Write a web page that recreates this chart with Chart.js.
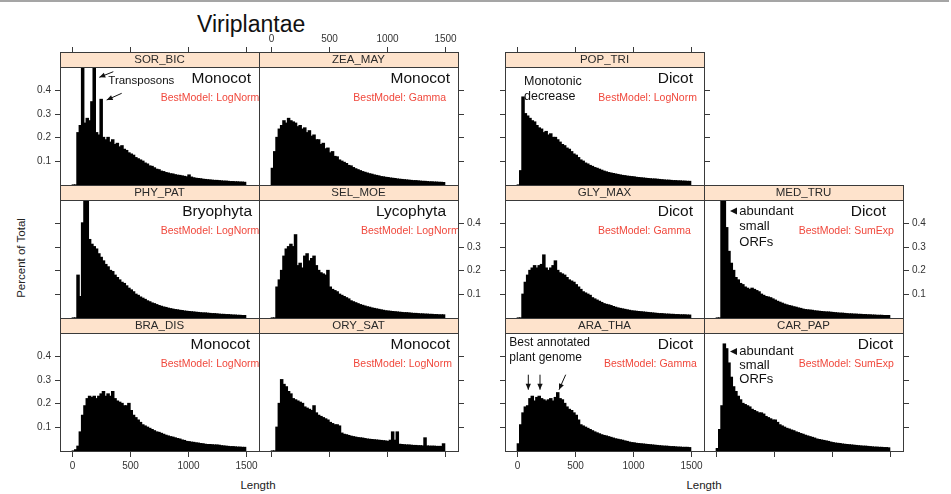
<!DOCTYPE html>
<html>
<head>
<meta charset="utf-8">
<title>Viriplantae</title>
<script src="https://cdn.jsdelivr.net/npm/chart.js@4.4.1/dist/chart.umd.min.js"></script>
<style>
  html, body { margin: 0; padding: 0; background: #fff; }
  body { width: 951px; height: 494px; position: relative; overflow: hidden;
         font-family: "Liberation Sans", Arial, Helvetica, sans-serif; color: #222; }
  #topline { position: absolute; left: 0; top: 0; width: 949px; height: 2px; background: #a5a5a5; }
  canvas { position: absolute; }
  .lbl { position: absolute; white-space: nowrap; }
</style>
</head>
<body>
<div id="topline"></div>
<div class="lbl" style="left:197px;top:11px;font-size:23px;line-height:26px;color:#111">Viriplantae</div>
<div class="lbl" style="left:208px;top:477px;width:100px;text-align:center;font-size:11.5px;line-height:16px">Length</div>
<div class="lbl" style="left:654px;top:477px;width:100px;text-align:center;font-size:11.5px;line-height:16px">Length</div>
<div class="lbl" style="left:-29px;top:250px;width:100px;text-align:center;font-size:11.5px;line-height:16px;transform:rotate(-90deg)">Percent of Total</div>

<script>
// bin centres of the length histograms (bin width 20)
var lengthBins = [
  10, 30, 50, 70, 90, 110, 130, 150, 170, 190,
  210, 230, 250, 270, 290, 310, 330, 350, 370, 390,
  410, 430, 450, 470, 490, 510, 530, 550, 570, 590,
  610, 630, 650, 670, 690, 710, 730, 750, 770, 790,
  810, 830, 850, 870, 890, 910, 930, 950, 970, 990,
  1010, 1030, 1050, 1070, 1090, 1110, 1130, 1150, 1170, 1190,
  1210, 1230, 1250, 1270, 1290, 1310, 1330, 1350, 1370, 1390,
  1410, 1430, 1450, 1470, 1490
];

var sorBic = [
  0, 0, 0.22, 0.25, 0.6, 0.26, 0.28, 0.27, 0.35, 0.6,
  0.22, 0.21, 0.36, 0.2, 0.19, 0.2, 0.18, 0.19, 0.17, 0.175,
  0.16, 0.165, 0.15, 0.145, 0.135, 0.13, 0.125, 0.115, 0.11, 0.105,
  0.1, 0.092, 0.088, 0.08, 0.078, 0.072, 0.066, 0.064, 0.058, 0.056,
  0.052, 0.05, 0.047, 0.046, 0.043, 0.041, 0.04, 0.038, 0.036, 0.034,
  0.042, 0.033, 0.03, 0.028, 0.027, 0.026, 0.024, 0.023, 0.022, 0.021,
  0.02, 0.019, 0.019, 0.018, 0.017, 0.016, 0.016, 0.015, 0.014, 0.014,
  0.013, 0.013, 0.012, 0.012, 0.011
];
var zeaMay = [
  0.07, 0.14, 0.2, 0.235, 0.25, 0.27, 0.26, 0.28, 0.27, 0.265,
  0.26, 0.245, 0.25, 0.235, 0.24, 0.22, 0.228, 0.205, 0.21, 0.19,
  0.19, 0.17, 0.175, 0.152, 0.155, 0.135, 0.14, 0.12, 0.118, 0.105,
  0.1, 0.095, 0.09, 0.082, 0.08, 0.073, 0.068, 0.064, 0.06, 0.056,
  0.053, 0.05, 0.047, 0.045, 0.042, 0.04, 0.038, 0.035, 0.034, 0.032,
  0.031, 0.029, 0.028, 0.027, 0.025, 0.024, 0.023, 0.022, 0.021, 0.02,
  0.019, 0.018, 0.018, 0.017, 0.016, 0.015, 0.015, 0.014, 0.013, 0.013,
  0.012, 0.012, 0.011, 0.011, 0.01
];
var phyPat = [
  0, 0, 0.18, 0.09, 0.4, 0.6, 0.6, 0.33, 0.31, 0.3,
  0.29, 0.27, 0.255, 0.24, 0.225, 0.215, 0.2, 0.195, 0.18, 0.17,
  0.16, 0.15, 0.145, 0.135, 0.125, 0.118, 0.11, 0.1, 0.095, 0.088,
  0.083, 0.078, 0.072, 0.068, 0.063, 0.06, 0.056, 0.052, 0.049, 0.046,
  0.044, 0.041, 0.039, 0.037, 0.035, 0.034, 0.032, 0.031, 0.029, 0.028,
  0.027, 0.026, 0.025, 0.024, 0.023, 0.022, 0.021, 0.021, 0.02, 0.019,
  0.018, 0.018, 0.017, 0.016, 0.015, 0.015, 0.014, 0.014, 0.013, 0.012,
  0.012, 0.011, 0.011, 0.01, 0.01
];
var selMoe = [
  0, 0, 0.13, 0.16, 0.2, 0.26, 0.29, 0.3, 0.31, 0.3,
  0.35, 0.22, 0.23, 0.21, 0.26, 0.27, 0.24, 0.25, 0.26, 0.22,
  0.2, 0.19, 0.185, 0.18, 0.2, 0.13, 0.12, 0.115, 0.11, 0.1,
  0.095, 0.09, 0.085, 0.08, 0.072, 0.068, 0.064, 0.06, 0.056, 0.053,
  0.05, 0.047, 0.045, 0.042, 0.04, 0.038, 0.036, 0.034, 0.032, 0.03,
  0.029, 0.028, 0.027, 0.026, 0.025, 0.024, 0.023, 0.022, 0.022, 0.021,
  0.02, 0.019, 0.019, 0.018, 0.017, 0.017, 0.016, 0.016, 0.015, 0.015,
  0.014, 0.014, 0.013, 0.013, 0.013
];
var braDis = [
  0, 0.005, 0.02, 0.08, 0.15, 0.19, 0.22, 0.23, 0.225, 0.23,
  0.22, 0.23, 0.24, 0.25, 0.23, 0.24, 0.23, 0.25, 0.22, 0.21,
  0.205, 0.2, 0.19, 0.19, 0.2, 0.17, 0.15, 0.14, 0.13, 0.12,
  0.11, 0.105, 0.1, 0.095, 0.09, 0.085, 0.08, 0.078, 0.074, 0.07,
  0.066, 0.063, 0.06, 0.058, 0.055, 0.052, 0.05, 0.046, 0.044, 0.04,
  0.039, 0.037, 0.036, 0.034, 0.033, 0.031, 0.03, 0.028, 0.027, 0.027,
  0.026, 0.025, 0.025, 0.024, 0.022, 0.021, 0.02, 0.019, 0.018, 0.018,
  0.017, 0.016, 0.016, 0.015, 0.015
];
var orySat = [
  0, 0, 0.1, 0.2, 0.3, 0.28, 0.27, 0.25, 0.24, 0.22,
  0.215, 0.21, 0.205, 0.2, 0.185, 0.18, 0.175, 0.17, 0.19, 0.16,
  0.15, 0.145, 0.14, 0.135, 0.13, 0.12, 0.115, 0.11, 0.11, 0.105,
  0.075, 0.07, 0.068, 0.065, 0.062, 0.06, 0.058, 0.056, 0.055, 0.054,
  0.052, 0.05, 0.049, 0.048, 0.047, 0.046, 0.045, 0.044, 0.043, 0.042,
  0.04, 0.045, 0.08, 0.045, 0.08, 0.028, 0.027, 0.026, 0.025, 0.025,
  0.024, 0.023, 0.023, 0.022, 0.022, 0.021, 0.055, 0.021, 0.02, 0.02,
  0.02, 0.019, 0.019, 0.019, 0.03
];
var popTri = [
  0, 0.06, 0.37, 0.3, 0.29, 0.28, 0.27, 0.265, 0.25, 0.24,
  0.235, 0.22, 0.225, 0.21, 0.215, 0.2, 0.2, 0.19, 0.18, 0.17,
  0.165, 0.155, 0.15, 0.14, 0.13, 0.125, 0.115, 0.105, 0.1, 0.092,
  0.088, 0.082, 0.078, 0.073, 0.07, 0.066, 0.062, 0.058, 0.055, 0.052,
  0.05, 0.048, 0.046, 0.044, 0.042, 0.04, 0.039, 0.037, 0.036, 0.035,
  0.034, 0.032, 0.031, 0.03, 0.029, 0.028, 0.027, 0.026, 0.025, 0.025,
  0.024, 0.023, 0.022, 0.021, 0.02, 0.02, 0.019, 0.018, 0.018, 0.017,
  0.017, 0.016, 0.016, 0.015, 0.015
];
var glyMax = [
  0, 0, 0.1, 0.15, 0.18, 0.2, 0.21, 0.22, 0.21, 0.22,
  0.225, 0.265, 0.21, 0.2, 0.21, 0.22, 0.24, 0.2, 0.19, 0.185,
  0.18, 0.17, 0.16, 0.155, 0.15, 0.14, 0.13, 0.12, 0.11, 0.105,
  0.1, 0.095, 0.085, 0.08, 0.075, 0.07, 0.065, 0.06, 0.057, 0.055,
  0.052, 0.048, 0.045, 0.042, 0.04, 0.038, 0.036, 0.034, 0.032, 0.03,
  0.029, 0.028, 0.027, 0.026, 0.025, 0.024, 0.023, 0.022, 0.021, 0.02,
  0.019, 0.018, 0.018, 0.017, 0.016, 0.016, 0.015, 0.015, 0.014, 0.014,
  0.013, 0.013, 0.013, 0.012, 0.012
];
var medTru = [
  0, 0, 0.7, 0.6, 0.38, 0.28, 0.23, 0.2, 0.17, 0.16,
  0.145, 0.14, 0.13, 0.125, 0.12, 0.125, 0.12, 0.115, 0.11, 0.1,
  0.095, 0.09, 0.088, 0.085, 0.08, 0.075, 0.07, 0.066, 0.062, 0.058,
  0.055, 0.052, 0.05, 0.047, 0.045, 0.042, 0.04, 0.037, 0.035, 0.034,
  0.033, 0.032, 0.03, 0.029, 0.028, 0.027, 0.026, 0.025, 0.025, 0.024,
  0.023, 0.022, 0.021, 0.02, 0.02, 0.019, 0.018, 0.017, 0.017, 0.016,
  0.016, 0.015, 0.015, 0.014, 0.014, 0.013, 0.013, 0.012, 0.012, 0.011,
  0.011, 0.011, 0.01, 0.01, 0.01
];
var araTha = [
  0.03, 0.11, 0.16, 0.185, 0.19, 0.22, 0.23, 0.21, 0.225, 0.23,
  0.22, 0.215, 0.21, 0.215, 0.22, 0.21, 0.225, 0.245, 0.22, 0.215,
  0.2, 0.185, 0.175, 0.17, 0.16, 0.15, 0.13, 0.11, 0.105, 0.1,
  0.095, 0.09, 0.085, 0.08, 0.076, 0.072, 0.068, 0.065, 0.063, 0.06,
  0.057, 0.054, 0.051, 0.049, 0.047, 0.045, 0.042, 0.04, 0.037, 0.035,
  0.034, 0.032, 0.031, 0.03, 0.029, 0.028, 0.027, 0.026, 0.025, 0.024,
  0.023, 0.022, 0.021, 0.02, 0.02, 0.019, 0.018, 0.018, 0.017, 0.016,
  0.016, 0.015, 0.015, 0.015, 0.014
];
var carPap = [
  0.01, 0.09, 0.19, 0.45, 0.43, 0.37, 0.31, 0.27, 0.25, 0.23,
  0.215, 0.2, 0.195, 0.19, 0.185, 0.175, 0.17, 0.165, 0.16, 0.16,
  0.155, 0.145, 0.14, 0.135, 0.13, 0.13, 0.12, 0.11, 0.105, 0.1,
  0.095, 0.092, 0.088, 0.085, 0.08, 0.077, 0.073, 0.07, 0.066, 0.063,
  0.06, 0.057, 0.054, 0.05, 0.048, 0.046, 0.044, 0.042, 0.04, 0.037,
  0.035, 0.033, 0.032, 0.031, 0.029, 0.028, 0.027, 0.026, 0.025, 0.024,
  0.023, 0.022, 0.021, 0.02, 0.02, 0.019, 0.018, 0.017, 0.016, 0.016,
  0.015, 0.015, 0.014, 0.014, 0.013
];

var xTicks = [0, 500, 1000, 1500];
var xTickLabels = ['0', '500', '1000', '1500'];
var yTicks = [0.1, 0.2, 0.3, 0.4];
var yTickLabels = ['0.1', '0.2', '0.3', '0.4'];

// panel geometry (px)
var X_MIN = -106, X_MAX = 1615, Y_MAX = 0.4964;
var PANEL_W = 199, PANEL_H = 118, STRIP_H = 15, PAD = 40, TICK = 5;
var FRAME = '#3a3a3a', STRIP_FILL = '#fee3cc', RED = '#f0483c';
var FONT = '"Liberation Sans", Arial, Helvetica, sans-serif';

// axes: 1 = ticks only, 2 = ticks + labels
var panels = [
  { name: 'SOR_BIC', values: sorBic, left: 60,  top: 67,  group: 'Monocot',   gx: 191, model: 'BestModel: LogNorm', mx: 100.7,
    axes: { t: 1, l: 2 },
    notes: [ { text: 'Transposons', x: 48.3, y: 13.7, size: 11.5 } ],
    arrows: [ [53.3, 4.7, 39.3, 10.3], [61.7, 26.3, 46.7, 33] ] },
  { name: 'ZEA_MAY', values: zeaMay, left: 259, top: 67,  group: 'Monocot',   gx: 191, model: 'BestModel: Gamma',   mx: 94.3,
    axes: { t: 2, r: 1 } },
  { name: 'PHY_PAT', values: phyPat, left: 60,  top: 200, group: 'Bryophyta', gx: 192, model: 'BestModel: LogNorm', mx: 100.7,
    axes: { l: 1 } },
  { name: 'SEL_MOE', values: selMoe, left: 259, top: 200, group: 'Lycophyta', gx: 187, model: 'BestModel: LogNorm', mx: 102,
    axes: { r: 2 } },
  { name: 'BRA_DIS', values: braDis, left: 60,  top: 333, group: 'Monocot',   gx: 190, model: 'BestModel: LogNorm', mx: 100.7,
    axes: { l: 2, b: 2 } },
  { name: 'ORY_SAT', values: orySat, left: 259, top: 333, group: 'Monocot',   gx: 191, model: 'BestModel: LogNorm', mx: 94.3,
    axes: { r: 1, b: 1 } },
  { name: 'POP_TRI', values: popTri, left: 505, top: 67,  group: 'Dicot',     gx: 188, model: 'BestModel: LogNorm', mx: 93.3,
    axes: { t: 1, l: 1, r: 1 },
    notes: [ { text: 'Monotonic', x: 19, y: 14.7, size: 12.5 }, { text: 'decrease', x: 19, y: 29.7, size: 12.5 } ] },
  { name: 'GLY_MAX', values: glyMax, left: 505, top: 200, group: 'Dicot',     gx: 188, model: 'BestModel: Gamma',   mx: 93,
    axes: { l: 1 } },
  { name: 'MED_TRU', values: medTru, left: 704, top: 200, group: 'Dicot',     gx: 182, model: 'BestModel: SumExp',  mx: 94.7,
    axes: { r: 2 },
    notes: [ { text: 'abundant', x: 35.3, y: 11, size: 13 }, { text: 'small', x: 35.3, y: 26.5, size: 13 },
             { text: 'ORFs', x: 35.3, y: 42, size: 13 } ],
    marks: [ [26, 11] ] },
  { name: 'ARA_THA', values: araTha, left: 505, top: 333, group: 'Dicot',     gx: 188, model: 'BestModel: Gamma',   mx: 99,
    axes: { l: 1, b: 2 },
    notes: [ { text: 'Best annotated', x: 4.3, y: 10, size: 12 }, { text: 'plant genome', x: 4.3, y: 24.3, size: 12 } ],
    arrows: [ [23.3, 41.7, 23.3, 56.7], [35, 41.7, 35, 56.7], [60.7, 41.7, 54, 56.7] ] },
  { name: 'CAR_PAP', values: carPap, left: 704, top: 333, group: 'Dicot',     gx: 189, model: 'BestModel: SumExp',  mx: 94.7,
    axes: { r: 1, b: 1 },
    notes: [ { text: 'abundant', x: 35.3, y: 18.5, size: 13 }, { text: 'small', x: 35.3, y: 32.5, size: 13 },
             { text: 'ORFs', x: 35.3, y: 46.5, size: 13 } ],
    marks: [ [26, 18.5] ] }
];

function drawArrow(ctx, x1, y1, x2, y2) {
  var ang = Math.atan2(y2 - y1, x2 - x1), len = 6.5, w = 0.42;
  ctx.beginPath();
  ctx.moveTo(x1, y1);
  ctx.lineTo(x2, y2);
  ctx.stroke();
  ctx.beginPath();
  ctx.moveTo(x2, y2);
  ctx.lineTo(x2 - len * Math.cos(ang - w), y2 - len * Math.sin(ang - w));
  ctx.lineTo(x2 - len * Math.cos(ang + w), y2 - len * Math.sin(ang + w));
  ctx.closePath();
  ctx.fill();
}

var latticePlugin = {
  id: 'lattice',
  afterDraw: function (chart, args, p) {
    var ctx = chart.ctx, a = chart.chartArea;
    var xs = chart.scales.x, ys = chart.scales.y;
    var L = a.left, T = a.top, R = a.right, B = a.bottom, S = T - STRIP_H;
    var ax = p.axes || {};
    var i, px, py;

    ctx.save();
    // strip
    ctx.fillStyle = STRIP_FILL;
    ctx.fillRect(L, S, R - L, STRIP_H);
    ctx.fillStyle = '#2a2a2a';
    ctx.font = '11.5px ' + FONT;
    ctx.textAlign = 'center';
    ctx.textBaseline = 'middle';
    ctx.fillText(p.name, (L + R) / 2, S + STRIP_H / 2 + 0.5);

    // frame
    ctx.strokeStyle = FRAME;
    ctx.lineWidth = 1;
    ctx.strokeRect(L + 0.5, S + 0.5, R - L, B - S);
    ctx.beginPath();
    ctx.moveTo(L, T + 0.5);
    ctx.lineTo(R + 1, T + 0.5);
    ctx.stroke();

    // ticks and tick labels
    ctx.fillStyle = '#333';
    ctx.font = '10px ' + FONT;
    ctx.beginPath();
    for (i = 0; i < xTicks.length; i++) {
      px = Math.round(xs.getPixelForValue(xTicks[i])) + 0.5;
      if (ax.t) { ctx.moveTo(px, S); ctx.lineTo(px, S - TICK); }
      if (ax.b) { ctx.moveTo(px, B + 1); ctx.lineTo(px, B + 1 + TICK); }
      ctx.textAlign = 'center';
      if (ax.t === 2) ctx.fillText(xTickLabels[i], px, S - 12.5);
      if (ax.b === 2) ctx.fillText(xTickLabels[i], px, B + 15.5);
    }
    for (i = 0; i < yTicks.length; i++) {
      py = Math.round(ys.getPixelForValue(yTicks[i])) + 0.5;
      if (ax.l) { ctx.moveTo(L, py); ctx.lineTo(L - TICK, py); }
      if (ax.r) { ctx.moveTo(R + 1, py); ctx.lineTo(R + 1 + TICK, py); }
      if (ax.l === 2) { ctx.textAlign = 'right'; ctx.fillText(yTickLabels[i], L - 9, py); }
      if (ax.r === 2) { ctx.textAlign = 'left'; ctx.fillText(yTickLabels[i], R + 9, py); }
    }
    ctx.stroke();

    // panel annotations, clipped to the panel like lattice does
    ctx.beginPath();
    ctx.rect(L, T + 1, R - L, B - T - 1);
    ctx.clip();
    ctx.textBaseline = 'middle';
    ctx.fillStyle = '#111';
    ctx.textAlign = 'right';
    ctx.font = '15.5px ' + FONT;
    ctx.fillText(p.group, L + p.gx, T + 12);
    ctx.fillStyle = RED;
    ctx.textAlign = 'left';
    ctx.font = '10.5px ' + FONT;
    ctx.fillText(p.model, L + p.mx, T + 31);

    ctx.fillStyle = '#111';
    ctx.strokeStyle = '#111';
    (p.notes || []).forEach(function (n) {
      ctx.font = n.size + 'px ' + FONT;
      ctx.fillText(n.text, L + n.x, T + n.y);
    });
    (p.arrows || []).forEach(function (r) {
      drawArrow(ctx, L + r[0], T + r[1], L + r[2], T + r[3]);
    });
    (p.marks || []).forEach(function (m) {
      ctx.beginPath();
      ctx.moveTo(L + m[0], T + m[1]);
      ctx.lineTo(L + m[0] + 7, T + m[1] - 3.5);
      ctx.lineTo(L + m[0] + 7, T + m[1] + 3.5);
      ctx.closePath();
      ctx.fill();
    });
    ctx.restore();
  }
};

panels.forEach(function (p) {
  var cv = document.createElement('canvas');
  cv.width = PANEL_W + 2 * PAD;
  cv.height = STRIP_H + PANEL_H + 2 * PAD;
  cv.style.left = (p.left - PAD) + 'px';
  cv.style.top = (p.top - STRIP_H - PAD) + 'px';
  document.body.appendChild(cv);

  new Chart(cv, {
    type: 'bar',
    data: {
      datasets: [{
        data: lengthBins.map(function (b, i) { return { x: b, y: p.values[i] }; }),
        backgroundColor: '#000',
        borderWidth: 0,
        inflateAmount: 0.6,
        barPercentage: 1,
        categoryPercentage: 1,
        clip: 0
      }]
    },
    options: {
      responsive: false,
      animation: false,
      events: [],
      layout: { padding: { left: PAD, right: PAD, top: PAD + STRIP_H, bottom: PAD } },
      plugins: { legend: { display: false }, tooltip: { enabled: false }, lattice: p },
      scales: {
        x: { type: 'linear', min: X_MIN, max: X_MAX, offset: false, display: false },
        y: { min: 0, max: Y_MAX, display: false }
      }
    },
    plugins: [latticePlugin]
  });
});
</script>
</body>
</html>
